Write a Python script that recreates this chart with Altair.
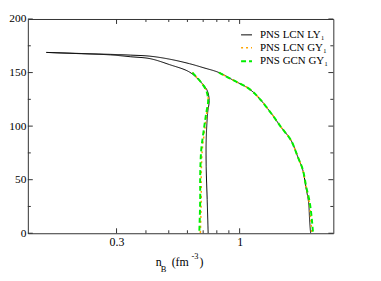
import altair as alt
import pandas as pd

# ---------------- data ----------------
series_names = ["PNS LCN LY\u2081", "PNS LCN GY\u2081", "PNS GCN GY\u2081"]

# black curve: one path from bottom-right up over the top and down the left branch
ly_n = [2.005, 2.001, 1.982, 1.963, 1.910, 1.853, 1.766, 1.650, 1.499, 1.361,
        1.201, 1.091, 0.944, 0.817, 0.700, 0.612, 0.504, 0.416, 0.343, 0.283, 0.212, 0.151,
        0.212, 0.283, 0.343, 0.416, 0.504, 0.612, 0.687, 0.728, 0.742, 0.731,
        0.721, 0.721, 0.728, 0.735]
ly_T = [0, 0.9, 13, 28.7, 43.5, 59.3, 71.3, 87, 99.1, 112,
        126.9, 135.2, 142.6, 150, 154.6, 158.3, 162.5, 165.3, 166.3, 167.0, 167.8, 168.8,
        167.6, 166.5, 164.8, 163, 157.4, 150.5, 140.7, 133.3, 124, 112,
        87, 62, 31.5, 0]

# GCN GY (green) left and right branches
gcn_left_n = [0.630, 0.687, 0.722, 0.735, 0.721, 0.707, 0.687, 0.680, 0.680, 0.674]
gcn_left_T = [150, 140.7, 133, 124, 112, 99, 77.8, 54.6, 31.5, 0]
gcn_right_n = [0.817, 0.944, 1.091, 1.201, 1.361, 1.499, 1.650, 1.766, 1.855, 1.918, 1.985, 2.026, 2.050]
gcn_right_T = [150, 142.6, 135.2, 126.9, 112, 99.1, 87, 71.3, 59.3, 43.5, 28.7, 13, 0]

# LCN GY (orange) left and right branches
lcn_left_n = [0.630, 0.687, 0.723, 0.736, 0.725, 0.713, 0.694, 0.687, 0.687, 0.681]
lcn_left_T = [150, 140.7, 133, 124, 112, 99, 77.8, 54.6, 31.5, 0]
lcn_right_n = [0.817, 0.944, 1.091, 1.201, 1.361, 1.499, 1.650, 1.766, 1.854, 1.913, 1.975, 2.005, 2.025]
lcn_right_T = [150, 142.6, 135.2, 126.9, 112, 99.1, 87, 71.3, 59.3, 43.5, 28.7, 13, 0]

x_label_values = [0.3, 1]
x_major_ticks = [0.3, 1]
x_minor_ticks = [0.4, 0.5, 0.6, 0.7, 0.8, 0.9]
y_major_ticks = [0, 50, 100, 150, 200]
y_minor_ticks = [25, 75, 125, 175]

title_pieces = ["n", "B", "(fm", "-3", ")"]

# ---------------- styles / layout ----------------
colors = ["#000000", "#ffa500", "#00ee00"]
dashes = [[1, 0], [2, 3], [5, 3]]
widths = [1, 2, 2]
W, H = 308, 216
PAD_L, PAD_T = 20, 10
FONT = "Liberation Serif"
AX = "#333333"
MAJ, MIN = 5, 3


def rows(series, seg, ns, Ts):
    return [{"series": series, "seg": seg, "ord": i, "n": a, "T": b}
            for i, (a, b) in enumerate(zip(ns, Ts))]


recs = []
recs += rows(series_names[0], "ly", ly_n, ly_T)
recs += rows(series_names[1], "lcn_l", lcn_left_n, lcn_left_T)
recs += rows(series_names[1], "lcn_r", lcn_right_n, lcn_right_T)
recs += rows(series_names[2], "gcn_l", gcn_left_n, gcn_left_T)
recs += rows(series_names[2], "gcn_r", gcn_right_n, gcn_right_T)
df = pd.DataFrame(recs)

x_scale = alt.Scale(type="log", domain=[0.126, 2.5], nice=False)
y_scale = alt.Scale(domain=[0, 200], nice=False, zero=False)

x_axis = alt.Axis(values=x_label_values, format="~g", ticks=False, domain=False,
                  grid=False, labelFont=FONT, labelFontSize=12, labelColor="black",
                  labelPadding=3, title=None)
y_axis = alt.Axis(values=y_major_ticks, ticks=False, domain=False, grid=False,
                  labelFont=FONT, labelFontSize=11.5, labelColor="black",
                  labelPadding=2, title=None)

leg = alt.Legend(title=None, orient="none", legendX=214, legendY=10,
                 labelFont=FONT, labelFontSize=11, labelColor="black",
                 symbolType="stroke", symbolSize=121, labelOffset=7,
                 rowPadding=1.5, padding=0)

lines = alt.Chart(df).mark_line(clip=True, interpolate="catmull-rom").encode(
    x=alt.X("n:Q", scale=x_scale, axis=x_axis),
    y=alt.Y("T:Q", scale=y_scale, axis=y_axis),
    color=alt.Color("series:N", scale=alt.Scale(domain=series_names, range=colors), legend=leg),
    strokeDash=alt.StrokeDash("series:N", scale=alt.Scale(domain=series_names, range=dashes), legend=leg),
    strokeWidth=alt.StrokeWidth("series:N", scale=alt.Scale(domain=series_names, range=widths), legend=leg),
    detail="seg:N",
    order="ord:Q",
)


def xticks(vals, L):
    d = alt.Chart(pd.DataFrame({"n": vals}))
    bot = d.mark_rule(color=AX, strokeWidth=1).encode(
        x=alt.X("n:Q", scale=x_scale, axis=x_axis), y=alt.value(H), y2=alt.value(H - L))
    top = d.mark_rule(color=AX, strokeWidth=1).encode(
        x=alt.X("n:Q", scale=x_scale, axis=x_axis), y=alt.value(0), y2=alt.value(L))
    return [bot, top]


def yticks(vals, L):
    d = alt.Chart(pd.DataFrame({"T": vals}))
    left = d.mark_rule(color=AX, strokeWidth=1).encode(
        y=alt.Y("T:Q", scale=y_scale, axis=y_axis), x=alt.value(0), x2=alt.value(L))
    right = d.mark_rule(color=AX, strokeWidth=1).encode(
        y=alt.Y("T:Q", scale=y_scale, axis=y_axis), x=alt.value(W), x2=alt.value(W - L))
    return [left, right]


# x-axis title pieces: (x, baseline y, size), relative to the plot area
title_layout = [(129, 249, 12), (134, 255, 8.5), (145, 249, 12), (165, 242, 8.5), (173, 249, 12)]
title_layers = []
for t, (px, py, fs) in zip(title_pieces, title_layout):
    title_layers.append(
        alt.Chart(pd.DataFrame({"t": [t]})).mark_text(
            align="left", baseline="alphabetic", font=FONT, fontSize=fs, color="black"
        ).encode(text="t:N", x=alt.value(px), y=alt.value(py))
    )

chart = alt.layer(
    lines,
    *xticks(x_major_ticks, MAJ), *xticks(x_minor_ticks, MIN),
    *yticks(y_major_ticks, MAJ), *yticks(y_minor_ticks, MIN),
    *title_layers
).properties(
    width=W, height=H,
    padding={"left": PAD_L, "top": PAD_T, "right": 40, "bottom": 40},
    autosize=alt.AutoSizeParams(type="none"),
    background="white",
).configure_view(stroke=AX, strokeWidth=1)

chart.save("out.html", embed_options={"renderer": "svg", "actions": False})
